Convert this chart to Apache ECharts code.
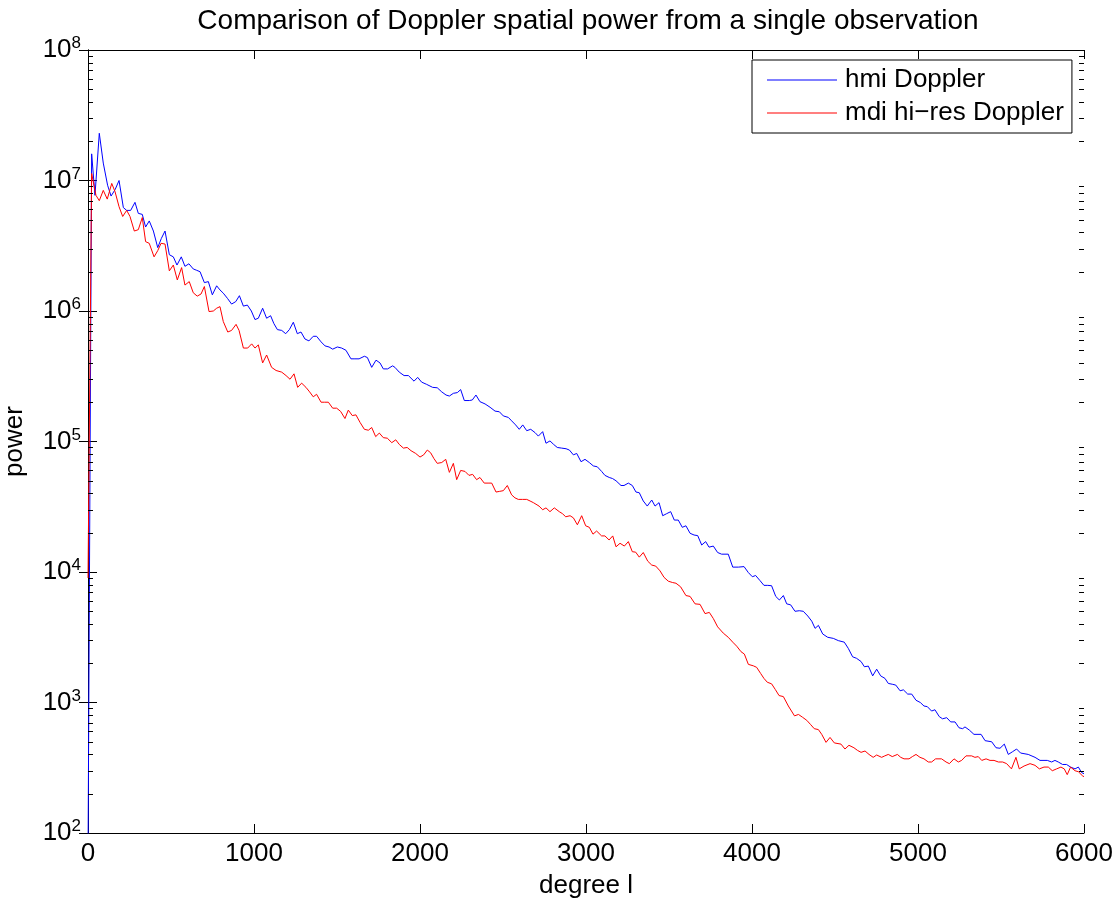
<!DOCTYPE html>
<html>
<head>
<meta charset="utf-8">
<script src="https://cdn.jsdelivr.net/npm/echarts@6/dist/echarts.min.js"></script>
<style>
  html, body { margin: 0; padding: 0; background: #fff; }
  #chart { width: 1118px; height: 902px; }
</style>
</head>
<body>
<div id="chart"></div>
<script>
const titleText = 'Comparison of Doppler spatial power from a single observation';
const xName = 'degree l';
const yName = 'power';
const seriesNames = ['hmi Doppler', 'mdi hi\u2212res Doppler'];
const xTicks = [0, 1000, 2000, 3000, 4000, 5000, 6000];

// [degree l, power]
const hmiData = [
  [0, 60], [22, 1.6e7], [42, 7.7e6], [68, 2.3e7], [92, 1.36e7], [118, 9.2e6], [139, 7.6e6],
  [163, 8.5e6], [187, 1.0e7], [213, 6.2e6], [233, 5.9e6], [257, 5.9e6], [283, 6.8e6],
  [303, 5.6e6], [327, 5.5e6], [347, 4.4e6], [369, 4.9e6], [394, 4.1e6], [420, 3.06e6],
  [442, 3.6e6], [464, 4.1e6], [490, 2.7e6], [514, 2.6e6], [536, 2.25e6], [562, 2.6e6],
  [584, 2.2e6], [608, 2.3e6], [634, 2.1e6], [655, 2.05e6], [675, 2.0e6], [701, 1.65e6],
  [725, 1.68e6], [749, 1.33e6], [775, 1.56e6], [795, 1.45e6], [815, 1.37e6], [840, 1.25e6],
  [865, 1.13e6], [890, 1.18e6], [912, 1.31e6], [936, 1.09e6], [960, 1.11e6], [984, 1.0e6],
  [1006, 8.6e5], [1026, 8.8e5], [1052, 1.05e6], [1076, 8.8e5], [1100, 9.2e5], [1120, 8.0e5],
  [1141, 7.2e5], [1167, 7.1e5], [1191, 6.7e5], [1213, 7.2e5], [1237, 8.2e5], [1261, 6.7e5],
  [1283, 6.9e5], [1307, 6.1e5], [1331, 5.9e5], [1357, 6.4e5], [1377, 6.4e5], [1404, 5.8e5],
  [1428, 5.4e5], [1452, 5.3e5], [1474, 5.1e5], [1502, 5.3e5], [1528, 5.2e5], [1554, 5.0e5],
  [1584, 4.3e5], [1608, 4.3e5], [1633, 4.3e5], [1665, 4.5e5], [1683, 4.4e5], [1709, 3.7e5],
  [1735, 4.2e5], [1759, 4.0e5], [1779, 3.6e5], [1805, 3.6e5], [1835, 3.8e5], [1849, 3.7e5],
  [1875, 3.4e5], [1904, 3.2e5], [1930, 3.2e5], [1964, 2.9e5], [1986, 3.1e5], [2010, 2.85e5],
  [2040, 2.74e5], [2076, 2.6e5], [2104, 2.58e5], [2131, 2.4e5], [2157, 2.27e5], [2177, 2.23e5],
  [2201, 2.34e5], [2225, 2.37e5], [2245, 2.5e5], [2267, 2.06e5], [2297, 2.06e5], [2315, 2.08e5],
  [2337, 2.27e5], [2361, 2.02e5], [2392, 1.94e5], [2422, 1.83e5], [2452, 1.71e5], [2478, 1.69e5],
  [2502, 1.57e5], [2532, 1.53e5], [2552, 1.44e5], [2576, 1.34e5], [2598, 1.24e5], [2619, 1.34e5],
  [2643, 1.21e5], [2667, 1.24e5], [2693, 1.17e5], [2713, 1.10e5], [2739, 1.19e5], [2759, 9.7e4],
  [2783, 1.01e5], [2805, 9.5e4], [2827, 9.0e4], [2853, 8.9e4], [2880, 8.8e4], [2900, 8.6e4],
  [2924, 7.9e4], [2944, 8.1e4], [2970, 7.0e4], [2994, 7.3e4], [3020, 6.9e4], [3044, 6.5e4],
  [3068, 6.4e4], [3094, 5.9e4], [3114, 5.5e4], [3140, 5.3e4], [3160, 5.2e4], [3181, 5.0e4],
  [3211, 4.6e4], [3229, 4.6e4], [3255, 4.8e4], [3279, 4.6e4], [3301, 4.1e4], [3321, 4.05e4],
  [3345, 3.5e4], [3369, 3.2e4], [3396, 3.56e4], [3416, 3.2e4], [3440, 3.4e4], [3462, 2.7e4],
  [3486, 2.8e4], [3510, 2.9e4], [3532, 2.5e4], [3556, 2.5e4], [3580, 2.2e4], [3602, 2.26e4],
  [3627, 1.98e4], [3651, 1.92e4], [3673, 1.9e4], [3697, 1.61e4], [3721, 1.71e4], [3741, 1.55e4],
  [3767, 1.58e4], [3793, 1.41e4], [3817, 1.37e4], [3857, 1.37e4], [3884, 1.09e4], [3918, 1.09e4],
  [3952, 1.1e4], [3978, 9.9e3], [4002, 9.2e3], [4022, 9.4e3], [4048, 8.6e3], [4072, 7.9e3],
  [4095, 7.9e3], [4118, 7.85e3], [4143, 6.5e3], [4165, 6.1e3], [4189, 6.6e3], [4209, 5.7e3],
  [4233, 5.6e3], [4259, 5.0e3], [4285, 5.05e3], [4309, 5.0e3], [4336, 4.6e3], [4360, 4.2e3],
  [4380, 3.7e3], [4400, 3.9e3], [4426, 3.35e3], [4456, 3.16e3], [4490, 3.1e3], [4520, 2.98e3],
  [4556, 2.9e3], [4580, 2.6e3], [4606, 2.24e3], [4630, 2.18e3], [4657, 2.06e3], [4677, 1.88e3],
  [4701, 1.9e3], [4727, 1.6e3], [4751, 1.8e3], [4775, 1.6e3], [4801, 1.53e3], [4821, 1.4e3],
  [4845, 1.38e3], [4866, 1.36e3], [4892, 1.23e3], [4912, 1.25e3], [4938, 1.16e3], [4962, 1.16e3],
  [4988, 1.04e3], [5014, 1.0e3], [5036, 9.4e2], [5056, 9.3e2], [5082, 8.6e2], [5102, 8.8e2],
  [5128, 7.8e2], [5148, 7.5e2], [5173, 7.65e2], [5197, 7.1e2], [5223, 7.1e2], [5247, 6.4e2],
  [5269, 6.3e2], [5283, 6.5e2], [5309, 6.15e2], [5337, 5.7e2], [5380, 5.7e2], [5404, 5.1e2],
  [5444, 5.0e2], [5470, 4.5e2], [5494, 4.46e2], [5520, 4.8e2], [5544, 4.0e2], [5570, 4.2e2],
  [5594, 4.4e2], [5618, 4.1e2], [5664, 4.0e2], [5705, 3.8e2], [5735, 3.6e2], [5779, 3.6e2],
  [5805, 3.5e2], [5825, 3.6e2], [5845, 3.5e2], [5871, 3.35e2], [5895, 3.35e2], [5919, 3.2e2],
  [5946, 3.1e2], [5966, 3.2e2], [5986, 2.9e2], [6000, 2.85e2]
];

const mdiData = [
  [0, 9e3], [22, 1.13e7], [48, 7.7e6], [68, 7.0e6], [92, 8.4e6], [116, 7.2e6], [143, 9.5e6],
  [163, 8.2e6], [187, 6.3e6], [209, 5.3e6], [233, 5.9e6], [253, 5.3e6], [279, 4.1e6],
  [303, 4.2e6], [327, 5.2e6], [347, 3.4e6], [369, 3.3e6], [398, 2.6e6], [420, 2.9e6],
  [440, 3.3e6], [464, 3.26e6], [490, 2.03e6], [514, 2.25e6], [538, 1.73e6], [564, 2.15e6],
  [584, 1.58e6], [610, 1.68e6], [634, 1.38e6], [658, 1.30e6], [681, 1.35e6], [701, 1.54e6],
  [729, 9.9e5], [755, 1.0e6], [775, 1.05e6], [795, 1.08e6], [815, 8.3e5], [842, 6.9e5],
  [865, 7.1e5], [892, 7.9e5], [910, 7.1e5], [936, 5.2e5], [962, 5.2e5], [986, 5.6e5],
  [1006, 5.2e5], [1026, 5.5e5], [1052, 4.0e5], [1076, 4.6e5], [1106, 3.7e5], [1133, 3.5e5],
  [1167, 3.4e5], [1193, 3.2e5], [1217, 3.0e5], [1241, 3.3e5], [1263, 2.6e5], [1287, 2.8e5],
  [1313, 2.6e5], [1335, 2.4e5], [1357, 2.2e5], [1377, 2.3e5], [1404, 2.0e5], [1426, 2.0e5],
  [1448, 2.0e5], [1474, 1.8e5], [1498, 1.8e5], [1522, 1.7e5], [1548, 1.5e5], [1568, 1.74e5],
  [1592, 1.58e5], [1614, 1.6e5], [1639, 1.4e5], [1665, 1.24e5], [1689, 1.22e5], [1709, 1.28e5],
  [1733, 1.09e5], [1755, 1.16e5], [1779, 1.07e5], [1803, 1.06e5], [1830, 9.8e4], [1854, 1.03e5],
  [1875, 9.5e4], [1900, 8.9e4], [1923, 9.0e4], [1946, 8.5e4], [1974, 8.1e4], [2000, 7.6e4],
  [2022, 7.9e4], [2044, 8.6e4], [2064, 8.2e4], [2084, 7.4e4], [2104, 6.8e4], [2131, 6.9e4],
  [2155, 7.3e4], [2177, 5.8e4], [2201, 6.8e4], [2221, 5.1e4], [2245, 6.0e4], [2271, 5.9e4],
  [2295, 5.5e4], [2317, 5.6e4], [2341, 5.1e4], [2361, 5.3e4], [2387, 4.8e4], [2410, 4.8e4],
  [2432, 4.8e4], [2458, 4.1e4], [2480, 4.15e4], [2502, 4.2e4], [2526, 4.6e4], [2552, 3.9e4],
  [2572, 3.7e4], [2592, 3.6e4], [2618, 3.6e4], [2643, 3.6e4], [2663, 3.5e4], [2683, 3.4e4],
  [2717, 3.2e4], [2739, 3.0e4], [2759, 3.1e4], [2783, 2.9e4], [2809, 3.1e4], [2839, 2.9e4],
  [2858, 2.8e4], [2878, 2.65e4], [2904, 2.7e4], [2924, 2.6e4], [2948, 2.3e4], [2974, 2.7e4],
  [2998, 2.26e4], [3020, 2.2e4], [3042, 1.95e4], [3064, 2.06e4], [3094, 1.89e4], [3114, 1.89e4],
  [3139, 1.76e4], [3161, 1.89e4], [3181, 1.56e4], [3205, 1.66e4], [3231, 1.58e4], [3255, 1.71e4],
  [3279, 1.43e4], [3299, 1.42e4], [3321, 1.3e4], [3345, 1.41e4], [3372, 1.21e4], [3396, 1.13e4],
  [3420, 1.11e4], [3446, 1.02e4], [3470, 9.1e3], [3496, 8.5e3], [3522, 8.3e3], [3542, 8.2e3],
  [3570, 7.7e3], [3602, 6.6e3], [3627, 6.5e3], [3657, 5.7e3], [3687, 5.65e3], [3717, 4.8e3],
  [3743, 4.9e3], [3767, 4.4e3], [3793, 3.8e3], [3827, 3.4e3], [3857, 3.16e3], [3884, 2.9e3],
  [3908, 2.7e3], [3934, 2.45e3], [3954, 2.35e3], [3978, 1.96e3], [4008, 1.91e3], [4028, 1.86e3],
  [4052, 1.67e3], [4072, 1.53e3], [4092, 1.43e3], [4118, 1.39e3], [4140, 1.26e3], [4163, 1.13e3],
  [4189, 1.11e3], [4219, 9.4e2], [4256, 7.9e2], [4280, 8.1e2], [4305, 7.7e2], [4330, 7.3e2],
  [4352, 6.8e2], [4375, 6.3e2], [4400, 6.2e2], [4420, 5.7e2], [4446, 4.95e2], [4470, 5.4e2],
  [4496, 4.9e2], [4536, 4.8e2], [4560, 4.4e2], [4584, 4.7e2], [4614, 4.5e2], [4635, 4.3e2],
  [4657, 4.15e2], [4681, 4.25e2], [4705, 4.0e2], [4730, 3.8e2], [4751, 3.96e2], [4781, 3.8e2],
  [4800, 3.9e2], [4821, 4.0e2], [4845, 3.85e2], [4876, 4.0e2], [4896, 3.8e2], [4916, 3.7e2],
  [4946, 3.7e2], [4966, 3.85e2], [4988, 4.0e2], [5012, 3.8e2], [5036, 3.7e2], [5062, 3.5e2],
  [5082, 3.5e2], [5106, 3.7e2], [5142, 3.7e2], [5169, 3.5e2], [5189, 3.4e2], [5217, 3.7e2],
  [5243, 3.5e2], [5263, 3.6e2], [5289, 3.9e2], [5323, 3.9e2], [5343, 3.8e2], [5363, 3.85e2],
  [5384, 3.6e2], [5410, 3.7e2], [5434, 3.6e2], [5458, 3.6e2], [5484, 3.5e2], [5510, 3.5e2],
  [5534, 3.4e2], [5563, 3.1e2], [5590, 3.8e2], [5610, 3.1e2], [5639, 3.26e2], [5675, 3.4e2],
  [5705, 3.3e2], [5731, 3.1e2], [5759, 3.2e2], [5785, 3.2e2], [5809, 3.0e2], [5835, 3.1e2],
  [5861, 3.2e2], [5881, 3.1e2], [5899, 2.8e2], [5919, 3.2e2], [5946, 3.0e2], [5966, 2.95e2],
  [5990, 2.75e2], [6000, 2.7e2]
];

// minor log ticks (2..9 in each decade from 10^2 to 10^7)
const minorTickValues = [];
for (let e = 2; e < 8; e++) {
  for (let m = 2; m <= 9; m++) minorTickValues.push([0, m * Math.pow(10, e)]);
}

const FONT = '"Liberation Sans", Arial, Helvetica, sans-serif';
const chart = echarts.init(document.getElementById('chart'), null, { renderer: 'canvas' });

const axisLineStyle = { show: true, lineStyle: { color: '#000', width: 1 } };

chart.setOption({
  animation: false,
  backgroundColor: '#fff',
  title: {
    text: titleText,
    left: 583,
    textAlign: 'center',
    top: 2,
    textStyle: { fontFamily: FONT, fontSize: 28, fontWeight: 'normal', color: '#000' }
  },
  legend: {
    data: seriesNames.map(n => ({ name: n, icon: 'rect' })),
    orient: 'vertical',
    left: 752,
    top: 60,
    backgroundColor: '#fff',
    borderColor: '#000',
    borderWidth: 1,
    borderRadius: 0,
    padding: [6, 8, 6, 15],
    itemGap: 5,
    itemWidth: 70,
    itemHeight: 1,
    textStyle: { fontFamily: FONT, fontSize: 26, color: '#000', padding: [0, 0, 0, 3], lineHeight: 28 }
  },
  grid: { left: 88, right: 34, top: 50, bottom: 69, containLabel: false, outerBoundsMode: 'none' },
  xAxis: [
    {
      type: 'value', min: 0, max: 6000, interval: 1000, position: 'bottom',
      name: xName, nameLocation: 'middle', nameGap: 40,
      nameTextStyle: { fontFamily: FONT, fontSize: 26, color: '#000' },
      axisLine: axisLineStyle,
      axisTick: { show: true, inside: true, length: 9, lineStyle: { color: '#000' } },
      axisLabel: { fontFamily: FONT, fontSize: 26, color: '#000', margin: 8,
        formatter: v => (xTicks.indexOf(v) >= 0 ? String(v) : '') },
      splitLine: { show: false }
    },
    {
      type: 'value', min: 0, max: 6000, interval: 1000, position: 'top',
      axisLine: axisLineStyle,
      axisTick: { show: true, inside: true, length: 9, lineStyle: { color: '#000' } },
      axisLabel: { show: false },
      splitLine: { show: false }
    }
  ],
  yAxis: [
    {
      type: 'log', logBase: 10, min: 100, max: 1e8, position: 'left',
      name: yName, nameLocation: 'middle', nameGap: 60, nameRotate: 90,
      nameTextStyle: { fontFamily: FONT, fontSize: 26, color: '#000' },
      axisLine: axisLineStyle,
      axisTick: { show: true, inside: true, length: 9, lineStyle: { color: '#000' } },
      axisLabel: {
        margin: 7,
        formatter: v => '{b|10}{s|' + Math.round(Math.log10(v)) + '}',
        rich: {
          b: { fontFamily: FONT, fontSize: 26, color: '#000', lineHeight: 30 },
          s: { fontFamily: FONT, fontSize: 17, color: '#000', verticalAlign: 'top', lineHeight: 17 }
        }
      },
      splitLine: { show: false }
    },
    {
      type: 'log', logBase: 10, min: 100, max: 1e8, position: 'right',
      axisLine: axisLineStyle,
      axisTick: { show: true, inside: true, length: 9, lineStyle: { color: '#000' } },
      axisLabel: { show: false },
      splitLine: { show: false }
    }
  ],
  series: [
    {
      type: 'custom', name: 'minorTicks', silent: true, xAxisIndex: 0, yAxisIndex: 0,
      encode: { x: 0, y: 1 }, clip: false, z: 5,
      data: minorTickValues,
      renderItem: function (params, api) {
        const v = api.value(1);
        const p = api.coord([0, v]);
        const q = api.coord([6000, v]);
        return {
          type: 'group',
          children: [
            { type: 'line', shape: { x1: p[0], y1: Math.round(p[1]) + 0.5, x2: p[0] + 5, y2: Math.round(p[1]) + 0.5 },
              style: { stroke: '#000', lineWidth: 1 } },
            { type: 'line', shape: { x1: q[0] - 5, y1: Math.round(q[1]) + 0.5, x2: q[0], y2: Math.round(q[1]) + 0.5 },
              style: { stroke: '#000', lineWidth: 1 } }
          ]
        };
      }
    },
    {
      name: seriesNames[0], type: 'line', data: hmiData, xAxisIndex: 0, yAxisIndex: 0,
      symbol: 'none', showSymbol: false, clip: true,
      lineStyle: { color: '#0000ff', width: 1 }, itemStyle: { color: '#0000ff' }, z: 3
    },
    {
      name: seriesNames[1], type: 'line', data: mdiData, xAxisIndex: 0, yAxisIndex: 0,
      symbol: 'none', showSymbol: false, clip: true,
      lineStyle: { color: '#ff0000', width: 1 }, itemStyle: { color: '#ff0000' }, z: 4
    }
  ]
});
</script>
</body>
</html>
